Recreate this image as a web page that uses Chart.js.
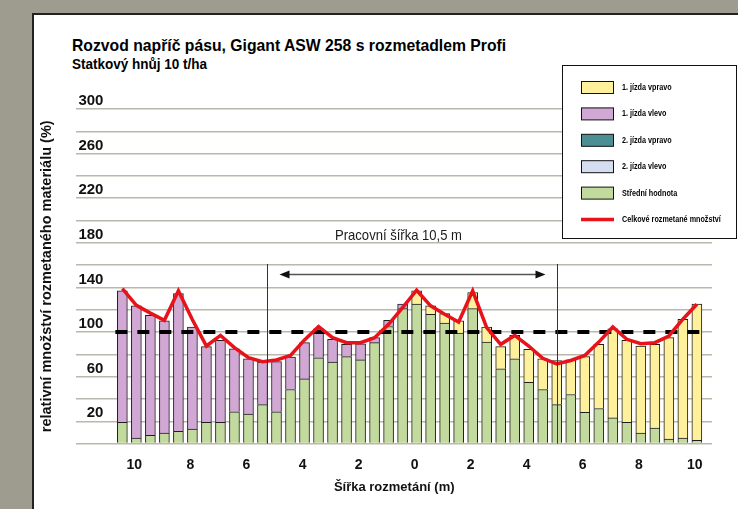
<!DOCTYPE html>
<html>
<head>
<meta charset="utf-8">
<script src="https://cdn.jsdelivr.net/npm/chart.js@4"></script>
<style>
  html, body { margin: 0; padding: 0; }
  body { width: 738px; height: 509px; background: #9e9b8f; position: relative; overflow: hidden;
         font-family: 'Liberation Sans', Arial, sans-serif; }
  #panel { position: absolute; left: 32px; top: 13px; width: 720px; height: 510px; background: #fff;
           border-left: 2px solid #222; border-top: 2px solid #222; }
  .head { position: absolute; left: 72px; font-weight: bold; color: #000; white-space: nowrap; transform-origin: 0 0; }
  #title { top: 36px; font-size: 17px; transform: scaleX(0.926); }
  #subtitle { top: 56px; font-size: 14px; transform: scaleX(0.965); }
  canvas { position: absolute; left: 0; top: 0; }
</style>
</head>
<body>
<div id="panel"></div>
<div id="title" class="head">Rozvod napříč pásu, Gigant ASW 258 s rozmetadlem Profi</div>
<div id="subtitle" class="head">Statkový hnůj 10 t/ha</div>
<canvas id="chart" width="738" height="509"></canvas>
<script>
// pozice sloupců (m od středu), vlevo záporné
const positions = [-10.5, -10, -9.5, -9, -8.5, -8, -7.5, -7, -6.5, -6, -5.5, -5, -4.5, -4, -3.5, -3, -2.5, -2, -1.5, -1, -0.5,
                   0, 0.5, 1, 1.5, 2, 2.5, 3, 3.5, 4, 4.5, 5, 5.5, 6, 6.5, 7, 7.5, 8, 8.5, 9, 9.5, 10];

const stredniHodnota = [19, 5, 7.5, 9.5, 11, 13, 19, 19, 28.5, 26.5, 35, 28.5, 48.5, 58, 77, 73, 78, 75, 90.5, 105, 121,
                        125, 116, 108, 99, 121, 91, 67, 76, 55, 48.5, 35, 44, 28, 31.5, 23, 19, 9.5, 14, 4, 5, 3];
const jizda1Vlevo = [118, 118.5, 107.5, 100.5, 123.5, 91.5, 68, 73.5, 56.5, 49.5, 38, 45, 29, 32.5, 26, 20.5, 11, 14.5, 4.5, 5.5, 4,
                     0, 0, 0, 0, 0, 0, 0, 0, 0, 0, 0, 0, 0, 0, 0, 0, 0, 0, 0, 0, 0];
const jizda1Vpravo = [0, 0, 0, 0, 0, 0, 0, 0, 0, 0, 0, 0, 0, 0, 0, 0, 0, 0, 0, 0, 0,
                      12, 7.5, 8.5, 11, 14.5, 13.5, 20, 21, 29.5, 27.5, 39.5, 31, 50, 57.5, 80, 73.5, 78, 75, 91, 106.5, 122];
const jizda2Vpravo = [0, 0, 0, 0, 0, 0, 0, 0, 0, 0, 0, 0, 0, 0, 0, 0, 0, 0, 0, 0, 0,
                      0, 0, 0, 0, 0, 0, 0, 0, 0, 0, 0, 0, 0, 0, 0, 0, 0, 0, 0, 0, 0];
const jizda2Vlevo = [0, 0, 0, 0, 0, 0, 0, 0, 0, 0, 0, 0, 0, 0, 0, 0, 0, 0, 0, 0, 0,
                     0, 0, 0, 0, 0, 0, 0, 0, 0, 0, 0, 0, 0, 0, 0, 0, 0, 0, 0, 0, 0];
const celkoveMnozstvi = [139, 124, 117, 110.5, 137, 111, 87.5, 97, 86, 77, 73.5, 75, 79, 93, 105, 95, 90.5, 90.5, 95, 107, 122,
                         137.5, 123.5, 116, 109, 137, 104, 89, 97, 87.5, 76.5, 71.5, 74.5, 79, 91, 104.5, 93.5, 89.5, 90.5, 96.5, 111.5, 125];

const referenceLevel = 100;
const xTickValues = [-10, -8, -6, -4, -2, 0, 2, 4, 6, 8, 10];
const yTickLabels = [20, 60, 100, 140, 180, 220, 260, 300];
const workEdges = [-5.35, 5.0];   // pracovní šířka
const workLabel = 'Pracovní šířka 10,5 m';

const sans = "'Liberation Sans', Arial, sans-serif";

function pts(values) {
    return positions.map((x, i) => ({ x: x, y: values[i] }));
}

const barStyle = { borderColor: '#1e1e1e', borderWidth: 1, barThickness: 10, order: 2, stack: 'bars' };

const datasets = [
    Object.assign({ label: 'Střední hodnota', data: pts(stredniHodnota), backgroundColor: '#c3da9e' }, barStyle),
    Object.assign({ label: '1. jízda vlevo', data: pts(jizda1Vlevo), backgroundColor: '#d1a7d3' }, barStyle),
    Object.assign({ label: '1. jízda vpravo', data: pts(jizda1Vpravo), backgroundColor: '#fff09c' }, barStyle),
    Object.assign({ label: '2. jízda vpravo', data: pts(jizda2Vpravo), backgroundColor: '#4b8f95' }, barStyle),
    Object.assign({ label: '2. jízda vlevo', data: pts(jizda2Vlevo), backgroundColor: '#d5def0' }, barStyle),
    {
        type: 'line', label: 'Celkové rozmetané množství', data: pts(celkoveMnozstvi),
        borderColor: '#e8121b', borderWidth: 3.5, pointRadius: 0, tension: 0, order: 0, stack: 'total'
    },
    {
        type: 'line', label: 'reference',
        data: [{ x: positions[0] - 0.25, y: referenceLevel }, { x: positions[positions.length - 1] + 0.25, y: referenceLevel }],
        borderColor: '#000', borderWidth: 4, borderDash: [12, 10], pointRadius: 0, order: 1, stack: 'ref'
    }
];

const legendOrder = ['1. jízda vpravo', '1. jízda vlevo', '2. jízda vpravo', '2. jízda vlevo', 'Střední hodnota', 'Celkové rozmetané množství'];

// text zúžený jako Arial Narrow
function narrowText(ctx, text, x, y, sx) {
    ctx.save();
    ctx.translate(x, y);
    ctx.scale(sx, 1);
    ctx.fillText(text, 0, 0);
    ctx.restore();
}

const overlay = {
    id: 'overlay',
    afterDatasetsDraw(chart) {
        const { ctx, chartArea } = chart;
        const x = chart.scales.x, y = chart.scales.y;
        const top = Math.round(y.getPixelForValue(161));
        const xs = workEdges.map(v => Math.round(x.getPixelForValue(v)) + 0.5);
        ctx.save();
        ctx.strokeStyle = '#333';
        ctx.lineWidth = 1;
        xs.forEach(px => {
            ctx.beginPath();
            ctx.moveTo(px, top);
            ctx.lineTo(px, chartArea.bottom);
            ctx.stroke();
        });
        // šipka
        const ay = top + 10.5;
        const a1 = xs[0] + 12, a2 = xs[1] - 12;
        ctx.strokeStyle = '#555';
        ctx.lineWidth = 1.5;
        ctx.beginPath();
        ctx.moveTo(a1 + 6, ay);
        ctx.lineTo(a2 - 6, ay);
        ctx.stroke();
        ctx.fillStyle = '#111';
        ctx.beginPath();
        ctx.moveTo(a1, ay); ctx.lineTo(a1 + 10, ay - 4); ctx.lineTo(a1 + 10, ay + 4); ctx.closePath();
        ctx.fill();
        ctx.beginPath();
        ctx.moveTo(a2, ay); ctx.lineTo(a2 - 10, ay - 4); ctx.lineTo(a2 - 10, ay + 4); ctx.closePath();
        ctx.fill();
        ctx.font = '15px ' + sans;
        ctx.fillStyle = '#1a1a1a';
        ctx.textAlign = 'center';
        ctx.textBaseline = 'middle';
        narrowText(ctx, workLabel, (xs[0] + xs[1]) / 2 - 14, top - 28, 0.87);
        ctx.restore();
    },
    afterDraw(chart) {
        const ctx = chart.ctx;
        const bx = 562.5, by = 65.5, bw = 174, bh = 173;
        ctx.save();
        ctx.fillStyle = '#fff';
        ctx.fillRect(bx, by, bw, bh);
        ctx.strokeStyle = '#111';
        ctx.lineWidth = 1;
        ctx.strokeRect(bx, by, bw, bh);
        ctx.font = 'bold 9px ' + sans;
        ctx.textBaseline = 'middle';
        ctx.textAlign = 'left';
        legendOrder.forEach((label, k) => {
            const ds = chart.data.datasets.find(d => d.label === label);
            const cy = 87.5 + k * 26.4;
            if (ds.type === 'line') {
                ctx.strokeStyle = ds.borderColor;
                ctx.lineWidth = 3.5;
                ctx.beginPath();
                ctx.moveTo(581, cy);
                ctx.lineTo(614, cy);
                ctx.stroke();
            } else {
                ctx.fillStyle = ds.backgroundColor;
                ctx.fillRect(581.5, cy - 6, 32, 12);
                ctx.strokeStyle = '#111';
                ctx.lineWidth = 1;
                ctx.strokeRect(581.5, cy - 6, 32, 12);
            }
            ctx.fillStyle = '#000';
            narrowText(ctx, label, 622, cy, 0.8);
        });
        ctx.restore();
    }
};

new Chart(document.getElementById('chart'), {
    type: 'bar',
    data: { datasets: datasets },
    plugins: [overlay],
    options: {
        responsive: false,
        animation: false,
        layout: { padding: { left: 31, right: 26, top: 109, bottom: 10 } },
        plugins: {
            legend: { display: false },
            tooltip: { enabled: false }
        },
        scales: {
            x: {
                type: 'linear', stacked: true, offset: false, min: -12.14, max: 10.54,
                grid: { display: false, drawTicks: false }, border: { display: false },
                afterBuildTicks: s => { s.ticks = xTickValues.map(v => ({ value: v })); },
                ticks: {
                    callback: v => String(Math.abs(v)), color: '#111', padding: 13, maxRotation: 0, labelOffset: -2,
                    autoSkip: false, font: { family: sans, size: 14, weight: 'bold' }
                },
                title: {
                    display: true, text: 'Šířka rozmetání (m)', color: '#111', padding: { top: -7, bottom: 4 },
                    font: { family: sans, size: 13, weight: 'bold' }
                }
            },
            y: {
                stacked: true, min: 0, max: 300,
                grid: { color: '#bab8ad', lineWidth: 1.5, drawTicks: false },
                border: { display: false },
                ticks: {
                    stepSize: 20, autoSkip: false, mirror: true, padding: 2, labelOffset: -8, color: '#111',
                    font: { family: sans, size: 15, weight: 'bold' },
                    callback: v => yTickLabels.includes(v) ? (v < 100 ? '  ' + v : String(v)) : ''
                },
                title: {
                    display: true, text: 'relativní množství rozmetaného materiálu (%)', color: '#111',
                    padding: { top: 7, bottom: 17 },
                    font: { family: sans, size: 14.5, weight: 'bold' }
                }
            }
        }
    }
});
</script>
</body>
</html>
